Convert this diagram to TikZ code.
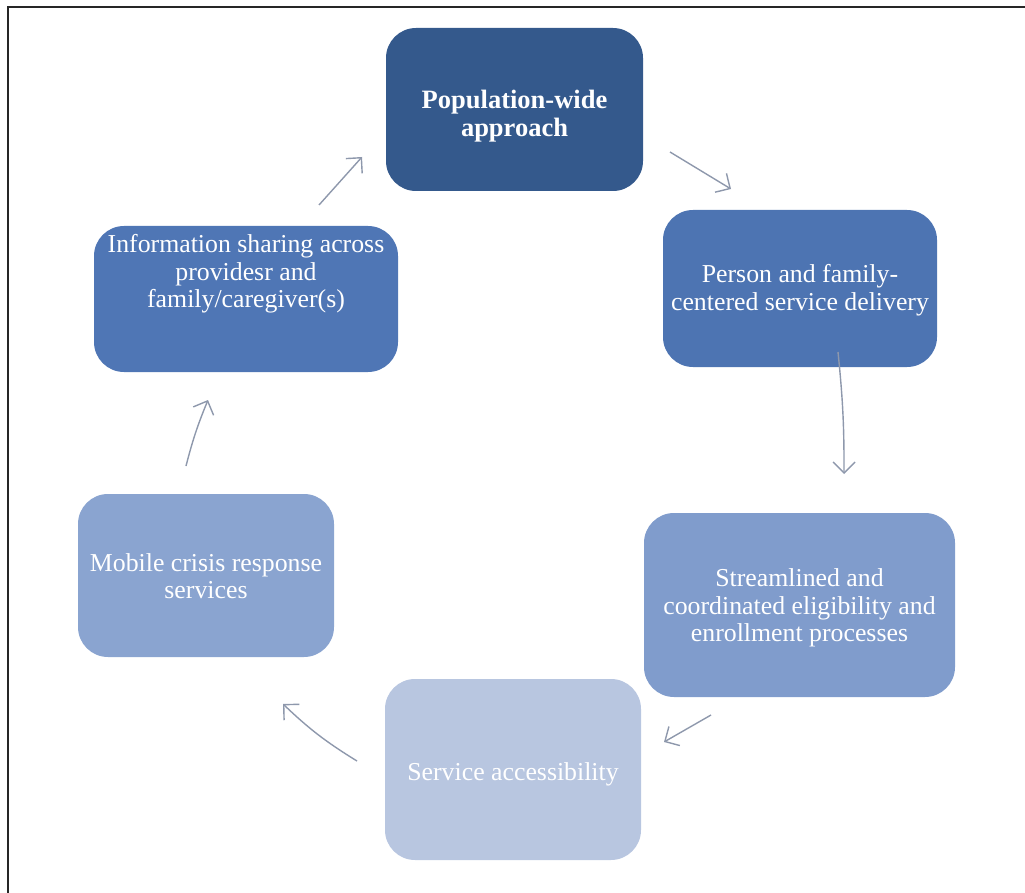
\documentclass[tikz,border=0pt]{standalone}
\usepackage{fontspec}
\setmainfont{Liberation Serif}
\usetikzlibrary{arrows.meta}
\definecolor{c1}{HTML}{34598C}
\definecolor{c2}{HTML}{4D74B2}
\definecolor{c3}{HTML}{809CCC}
\definecolor{c4}{HTML}{B8C6E0}
\definecolor{c5}{HTML}{8AA4D0}
\definecolor{c6}{HTML}{4F76B5}
\definecolor{arr}{HTML}{8E98AC}
\tikzset{
  box/.style={rounded corners=30pt, draw=none, text=white, align=center,
    font=\fontsize{25.8}{27.5}\selectfont},
  flow/.style={draw=arr, line width=1.4pt, -{Straight Barb[length=11pt,width=22pt,line width=1.4pt]}},
}
\begin{document}
\begin{tikzpicture}[x=1pt,y=-1pt]
\useasboundingbox (0,0) rectangle (1025,893);
\draw[line width=2.2pt, black!85] (8,893) -- (8,7) -- (1025,7);
% boxes
\fill[c1, rounded corners=30pt] (386,28) rectangle (643,191);
\node[box, font=\bfseries\fontsize{26.5}{28}\selectfont] (b1) at (514.5,116) {Population-wide\\approach};
\fill[c2, rounded corners=30pt] (663,210) rectangle (937,367);
\node[box] (b2) at (800,290) {Person and family-\\centered service delivery};
\fill[c3, rounded corners=30pt] (644,513) rectangle (955,697);
\node[box] (b3) at (799.5,608) {Streamlined and\\coordinated eligibility and\\enrollment processes};
\fill[c4, rounded corners=30pt] (385,679) rectangle (641,860);
\node[box] (b4) at (513,774) {Service accessibility};
\fill[c5, rounded corners=30pt] (78,494) rectangle (334,657);
\node[box] (b5) at (206,576) {Mobile crisis response\\services};
\fill[c6, rounded corners=30pt] (94,226) rectangle (398,372);
\node[box] (b6) at (246,274) {Information sharing across\\providesr and\\family/caregiver(s)};
% arrows
\coordinate (a1s) at (319,205); \coordinate (a1e) at (362,157);
\coordinate (a2s) at (670,152); \coordinate (a2e) at (731,189);
\coordinate (a3s) at (838,352); \coordinate (a3e) at (844,474);
\coordinate (a4s) at (711,715); \coordinate (a4e) at (664,742);
\coordinate (a5s) at (357,761); \coordinate (a5e) at (283,704);
\coordinate (a6s) at (186,466); \coordinate (a6e) at (208,400);
\draw[flow] (a1s) -- (a1e);
\draw[flow] (a2s) -- (a2e);
\draw[flow] (a3s) to[bend left=3] (a3e);
\draw[flow] (a4s) -- (a4e);
\draw[flow] (a5s) to[bend left=6] (a5e);
\draw[flow] (a6s) to[bend left=4] (a6e);
\end{tikzpicture}
\end{document}
